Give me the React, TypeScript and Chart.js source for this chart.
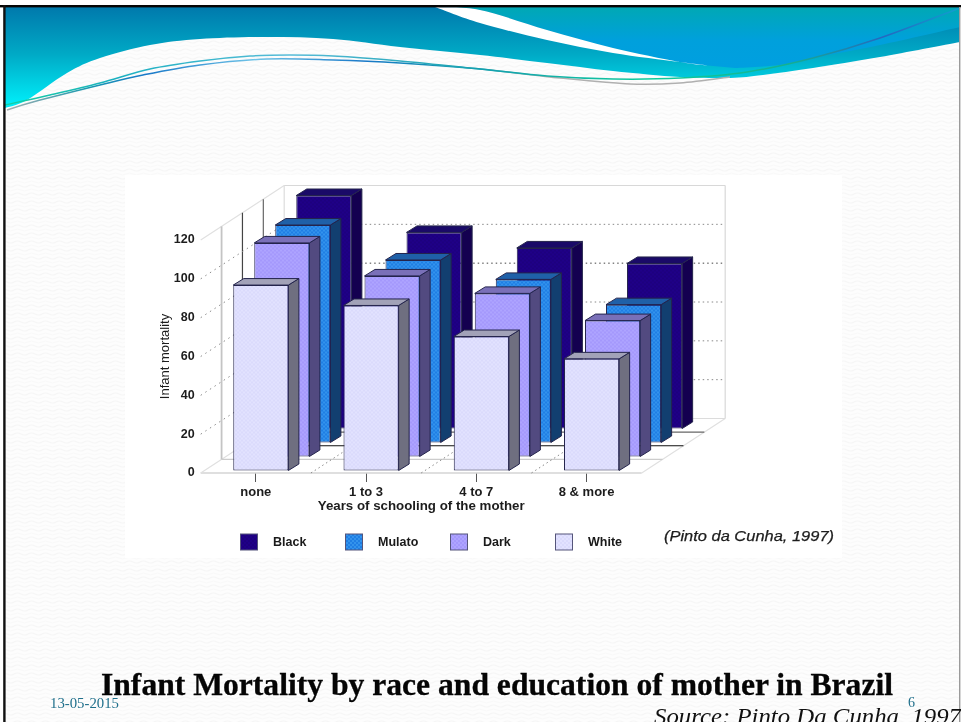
import React, { useEffect, useRef } from "react";
import { Chart, registerables } from "chart.js";

Chart.register(...registerables);

const categories = ["none", "1 to 3", "4 to 7", "8 & more"];
const seriesNames = ["Black", "Mulato", "Dark", "White"];
const blackValues = [120, 101, 93, 85];
const mulatoValues = [112, 94, 84, 71];
const darkValues = [110, 93, 84, 70];
const whiteValues = [95.5, 85, 69, 57.5];
const yTicks = [0, 20, 40, 60, 80, 100, 120];

// [pattern a, pattern b, side face, top face]
const blackStyle = ["#1f0088", "#1d007e", "#140050", "#1a0a68"];
const mulatoStyle = ["#1f7ee4", "#3393ec", "#123f70", "#1f60a8"];
const darkStyle = ["#a498fc", "#aea4ff", "#524a80", "#7a70b8"];
const whiteStyle = ["#dadafc", "#e2e2ff", "#6f6f80", "#a2a2b8"];

const LANE_DX = 21;
const LANE_DY = -14;
const BASE_DX = 5;
const BASE_DY = -2.5;
const BAR_DX = 10.5;
const BAR_DY = -6.5;
const WALL_DX = 83.5;
const WALL_DY = -54.5;

function makePattern(a: string, b: string) {
  const c = document.createElement("canvas");
  c.width = 4;
  c.height = 4;
  const g = c.getContext("2d")!;
  g.fillStyle = a;
  g.fillRect(0, 0, 4, 4);
  g.fillStyle = b;
  g.fillRect(0, 0, 2, 2);
  g.fillRect(2, 2, 2, 2);
  return g.createPattern(c, "repeat")!;
}

const laneOf = (i: number) => seriesNames.length - 1 - i;

const wallPlugin = {
  id: "walls",
  beforeDatasetsDraw(chart: any) {
    const { ctx, chartArea: a, scales } = chart;
    const y = scales.y;
    const x = scales.x;
    const line = (x1: number, y1: number, x2: number, y2: number, color: string, w = 1, dash: number[] = []) => {
      ctx.save();
      ctx.strokeStyle = color;
      ctx.lineWidth = w;
      ctx.setLineDash(dash);
      ctx.beginPath();
      ctx.moveTo(x1, y1);
      ctx.lineTo(x2, y2);
      ctx.stroke();
      ctx.restore();
    };
    const L = a.left, R = a.right, T = a.top, B = a.bottom;
    // outline of walls and floor
    line(L, B, R, B, "#d4d4d4", 1.5);
    line(R, B, R + WALL_DX, B + WALL_DY, "#e0e0e0", 1.2);
    line(L, B, L + WALL_DX, B + WALL_DY, "#e0e0e0", 1.2);
    line(L + WALL_DX, B + WALL_DY, R + WALL_DX, B + WALL_DY, "#dcdcdc", 1.2);
    line(L, T, L + WALL_DX, T + WALL_DY, "#e0e0e0", 1.2);
    line(L + WALL_DX, T + WALL_DY, R + WALL_DX, T + WALL_DY, "#d8d8d8", 1.2);
    line(R + WALL_DX, T + WALL_DY, R + WALL_DX, B + WALL_DY, "#d8d8d8", 1.2);
    line(L + WALL_DX, T + WALL_DY, L + WALL_DX, B + WALL_DY, "#dcdcdc", 1.2);
    // lane verticals and floor lines
    const stepX = WALL_DX / 4, stepY = WALL_DY / 4;
    const vcolors = ["#c4c4c4", "#444444", "#666666"];
    const fcolors = ["#cccccc", "#111111", "#666666"];
    vcolors.forEach((c, k) => {
      const ox = stepX * (k + 1), oy = stepY * (k + 1);
      line(L + ox, T + oy, L + ox, B + oy, c, k === 0 ? 1.8 : 1.2);
      line(L + ox, B + oy, R + ox, B + oy, fcolors[k], 1.2);
    });
    // dotted grid on both walls
    yTicks.forEach((v) => {
      if (v === 0 || v === 120) return;
      const py = y.getPixelForValue(v);
      line(L, py, L + WALL_DX, py + WALL_DY, "#8a8a8a", 1, [1.5, 4]);
      line(L + WALL_DX, py + WALL_DY, R + WALL_DX, py + WALL_DY, v === 80 ? "#444444" : "#888888", 1, [1.5, 3]);
    });
    // dotted floor separators
    categories.forEach((_, i) => {
      if (i === 0) return;
      const px = (x.getPixelForValue(i - 1) + x.getPixelForValue(i)) / 2;
      line(px, B, px + WALL_DX, B + WALL_DY, "#888888", 1, [1.5, 3]);
    });
  },
};

const depthPlugin = {
  id: "depth",
  beforeDatasetDraw(chart: any, args: any) {
    const { ctx } = chart;
    const ds = chart.data.datasets[args.index];
    const lane = laneOf(args.index);
    ctx.save();
    ctx.translate(BASE_DX + lane * LANE_DX, BASE_DY + lane * LANE_DY);
    args.meta.data.forEach((el: any) => {
      const l = el.x - el.width / 2;
      const r = el.x + el.width / 2;
      const t = el.y;
      const b = el.base;
      ctx.lineWidth = 1;
      ctx.strokeStyle = "#24244c";
      ctx.fillStyle = ds.sideColor;
      ctx.beginPath();
      ctx.moveTo(r, t);
      ctx.lineTo(r + BAR_DX, t + BAR_DY);
      ctx.lineTo(r + BAR_DX, b + BAR_DY);
      ctx.lineTo(r, b);
      ctx.closePath();
      ctx.fill();
      ctx.stroke();
      ctx.fillStyle = ds.topColor;
      ctx.beginPath();
      ctx.moveTo(l, t);
      ctx.lineTo(l + BAR_DX, t + BAR_DY);
      ctx.lineTo(r + BAR_DX, t + BAR_DY);
      ctx.lineTo(r, t);
      ctx.closePath();
      ctx.fill();
      ctx.stroke();
    });
  },
  afterDatasetDraw(chart: any) {
    chart.ctx.restore();
  },
};

const legendPlugin = {
  id: "slideLegend",
  afterDraw(chart: any) {
    const { ctx } = chart;
    chart.data.datasets.forEach((ds: any, i: number) => {
      const x = 240.5 + i * 105;
      ctx.fillStyle = ds.backgroundColor;
      ctx.fillRect(x, 534, 17, 16);
      ctx.strokeStyle = "#55557a";
      ctx.lineWidth = 1;
      ctx.strokeRect(x, 534, 17, 16);
      ctx.fillStyle = "#1a1a1a";
      ctx.font = "bold 12.5px 'Liberation Sans'";
      ctx.textAlign = "left";
      ctx.textBaseline = "middle";
      ctx.fillText(ds.label, x + 32.5, 542.5);
    });
  },
};

function smooth(pts: number[][]) {
  let d = `M${pts[0][0]} ${pts[0][1]}`;
  for (let i = 0; i < pts.length - 1; i++) {
    const p0 = pts[Math.max(i - 1, 0)];
    const p1 = pts[i];
    const p2 = pts[i + 1];
    const p3 = pts[Math.min(i + 2, pts.length - 1)];
    const c1x = p1[0] + (p2[0] - p0[0]) / 6;
    const c1y = p1[1] + (p2[1] - p0[1]) / 6;
    const c2x = p2[0] - (p3[0] - p1[0]) / 6;
    const c2y = p2[1] - (p3[1] - p1[1]) / 6;
    d += ` C${c1x} ${c1y} ${c2x} ${c2y} ${p2[0]} ${p2[1]}`;
  }
  return d;
}

const lowerEdge = [[5, 108], [27, 100], [67, 73], [100, 58], [150, 45], [200, 39], [267, 37], [333, 39], [400, 47], [480, 55], [547, 63], [613, 71], [680, 77], [730, 78], [763, 75], [813, 68], [880, 57], [960, 42]];
const bandEdge = [[735, 68], [780, 65], [813, 58], [880, 45], [960, 27]];
const stripeUpper = [[435, 7], [480, 10], [547, 30], [613, 48], [680, 62], [713, 66]];
const stripeLower = [[435, 7], [480, 23], [547, 40], [613, 53], [680, 62], [713, 66]];
const lineA = [[5, 105], [50, 95], [100, 83], [150, 69], [200, 61], [250, 56], [290, 55], [333, 56], [400, 61], [480, 69], [547, 76], [613, 79], [680, 78], [747, 72], [813, 58], [880, 38], [960, 8]];
const lineB = [[7, 110], [33, 102], [100, 85], [143, 75], [200, 65], [267, 59], [333, 60], [400, 63], [480, 69], [560, 78], [630, 84], [680, 83], [730, 77]];

function Background() {
  return (
    <svg width={961} height={722} style={{ position: "absolute", left: 0, top: 0 }}>
      <defs>
        <linearGradient id="mainG" gradientUnits="userSpaceOnUse" x1="0" y1="7" x2="0" y2="102">
          <stop offset="0" stopColor="#0079ac" />
          <stop offset="0.5" stopColor="#00aac6" />
          <stop offset="1" stopColor="#00eaf6" />
        </linearGradient>
        <linearGradient id="rightG" gradientUnits="userSpaceOnUse" x1="0" y1="7" x2="0" y2="68">
          <stop offset="0" stopColor="#00a8b4" />
          <stop offset="0.55" stopColor="#00a0dc" />
          <stop offset="1" stopColor="#009fe0" />
        </linearGradient>
        <linearGradient id="lineAG" gradientUnits="userSpaceOnUse" x1="0" y1="0" x2="961" y2="0">
          <stop offset="0" stopColor="#14d0a0" />
          <stop offset="0.12" stopColor="#1ab0c0" />
          <stop offset="0.3" stopColor="#58bcd8" />
          <stop offset="0.5" stopColor="#14a0b0" />
          <stop offset="0.68" stopColor="#10cc9c" />
          <stop offset="0.82" stopColor="#14b090" />
          <stop offset="0.92" stopColor="#2468c0" />
          <stop offset="1" stopColor="#10a0d0" />
        </linearGradient>
        <linearGradient id="lineBG" gradientUnits="userSpaceOnUse" x1="0" y1="0" x2="730" y2="0">
          <stop offset="0" stopColor="#b0b0b0" />
          <stop offset="0.12" stopColor="#1a9ab0" />
          <stop offset="0.2" stopColor="#1878c8" />
          <stop offset="0.35" stopColor="#70c4e8" />
          <stop offset="0.5" stopColor="#1878c8" />
          <stop offset="0.65" stopColor="#14a0a8" />
          <stop offset="0.75" stopColor="#b0b0b0" />
          <stop offset="1" stopColor="#b0b0b0" />
        </linearGradient>
        <pattern id="tex" width="14" height="8" patternUnits="userSpaceOnUse">
          <rect width="14" height="8" fill="#fdfdfd" />
          <path d="M0 2 Q3.5 0 7 2 T14 2" fill="none" stroke="#f6f6f6" strokeWidth="1.2" />
          <path d="M0 6 Q3.5 4 7 6 T14 6" fill="none" stroke="#f9f9f9" strokeWidth="1" />
        </pattern>
      </defs>
      <rect x="0" y="0" width="961" height="722" fill="#ffffff" />
      <rect x="4" y="6" width="955" height="716" fill="url(#tex)" />
      <rect x="125" y="175" width="717" height="383" fill="#ffffff" />
      <path d={`${smooth(lowerEdge)} L960 7 L5 7 Z`} fill="url(#mainG)" />
      <path d={`${smooth(stripeUpper)} ${smooth(bandEdge).replace("M", "L")} L960 7 Z`} fill="url(#rightG)" />
      <path d={`${smooth(stripeUpper)} L713 66 ${smooth([...stripeLower].reverse()).replace("M", "L")} Z`} fill="#ffffff" />
      <path d={smooth(lineB)} fill="none" stroke="url(#lineBG)" strokeWidth="1.5" />
      <path d={smooth(lineA)} fill="none" stroke="url(#lineAG)" strokeWidth="1.5" />
      <rect x="0" y="5" width="961" height="2.4" fill="#050505" />
      <rect x="3.2" y="5" width="2.4" height="717" fill="#111111" />
      <rect x="959" y="7" width="1.4" height="715" fill="#9a9a9a" />
    </svg>
  );
}

function Overlay() {
  return (
    <svg width={961} height={722} style={{ position: "absolute", left: 0, top: 0 }}>
      <text x="664" y="541" textLength="170" lengthAdjust="spacingAndGlyphs" fontFamily="'Liberation Sans'" fontStyle="italic" fontSize="14.5" stroke="#1c1c1c" strokeWidth="0.25" fill="#1c1c1c">(Pinto da Cunha, 1997)</text>
      <text x="101" y="695" textLength="792" lengthAdjust="spacingAndGlyphs" fontFamily="'Liberation Serif'" fontWeight="bold" fontSize="31" stroke="#050505" strokeWidth="0.3" fill="#050505">Infant Mortality by race and education of mother in Brazil</text>
      <text x="50" y="708" textLength="69" lengthAdjust="spacingAndGlyphs" fontFamily="'Liberation Serif'" fontSize="14" fill="#1f6f8b">13-05-2015</text>
      <text x="908" y="707" fontFamily="'Liberation Serif'" fontSize="14" fill="#1f6f8b">6</text>
      <text x="654" y="724" textLength="307" lengthAdjust="spacingAndGlyphs" fontFamily="'Liberation Serif'" fontStyle="italic" fontSize="24" fill="#111111">Source: Pinto Da Cunha, 1997</text>
    </svg>
  );
}

export default function App() {
  const ref = useRef<HTMLCanvasElement>(null);
  useEffect(() => {
    const series: [string, number[], string[], number][] = [
      [seriesNames[0], blackValues, blackStyle, 3],
      [seriesNames[1], mulatoValues, mulatoStyle, 2],
      [seriesNames[2], darkValues, darkStyle, 1],
      [seriesNames[3], whiteValues, whiteStyle, 0],
    ];
    const chart = new Chart(ref.current!, {
      type: "bar",
      data: {
        labels: categories,
        datasets: series.map(([label, data, st, order]) => ({
          label,
          data,
          order,
          backgroundColor: makePattern(st[0], st[1]),
          borderColor: "#24244c",
          borderWidth: 1,
          borderSkipped: false,
          sideColor: st[2],
          topColor: st[3],
          clip: false,
          barPercentage: 0.5,
          categoryPercentage: 1,
          grouped: false,
        })) as any,
      },
      options: {
        responsive: false,
        animation: false,
        layout: { padding: { left: 158, right: 319.3, top: 240, bottom: 208 } },
        plugins: { legend: { display: false }, tooltip: { enabled: false }, title: { display: false } },
        scales: {
          x: {
            border: { display: false },
            grid: { offset: false, drawOnChartArea: false, drawTicks: true, tickLength: 9, tickColor: "#555555" },
            ticks: { padding: 3, color: "#1c1c1c", font: { family: "'Liberation Sans'", size: 13, weight: "bold" } },
            title: { display: true, text: "Years of schooling of the mother", color: "#1c1c1c", padding: 0, font: { family: "'Liberation Sans'", size: 13.3, weight: "bold" } },
            afterFit: (s: any) => { s.height = 41; },
          },
          y: {
            min: 0,
            max: 120,
            border: { display: false },
            grid: { display: false, drawTicks: false },
            afterBuildTicks: (s: any) => { s.ticks = yTicks.map((value) => ({ value })); },
            ticks: { padding: 6, color: "#1c1c1c", font: { family: "'Liberation Sans'", size: 12.5, weight: "bold" } },
            title: { display: true, text: "Infant mortality", color: "#1c1c1c", padding: 0, font: { family: "'Liberation Sans'", size: 13 } },
            afterFit: (s: any) => { s.width = 42.7; },
          },
        },
      },
      plugins: [wallPlugin, depthPlugin, legendPlugin],
    } as any);
    return () => chart.destroy();
  }, []);
  return (
    <div style={{ position: "absolute", left: 0, top: 0, width: 961, height: 722, overflow: "hidden" }}>
      <Background />
      <canvas ref={ref} width={961} height={722} style={{ position: "absolute", left: 0, top: 0, filter: "blur(0.35px)" }} />
      <Overlay />
    </div>
  );
}
